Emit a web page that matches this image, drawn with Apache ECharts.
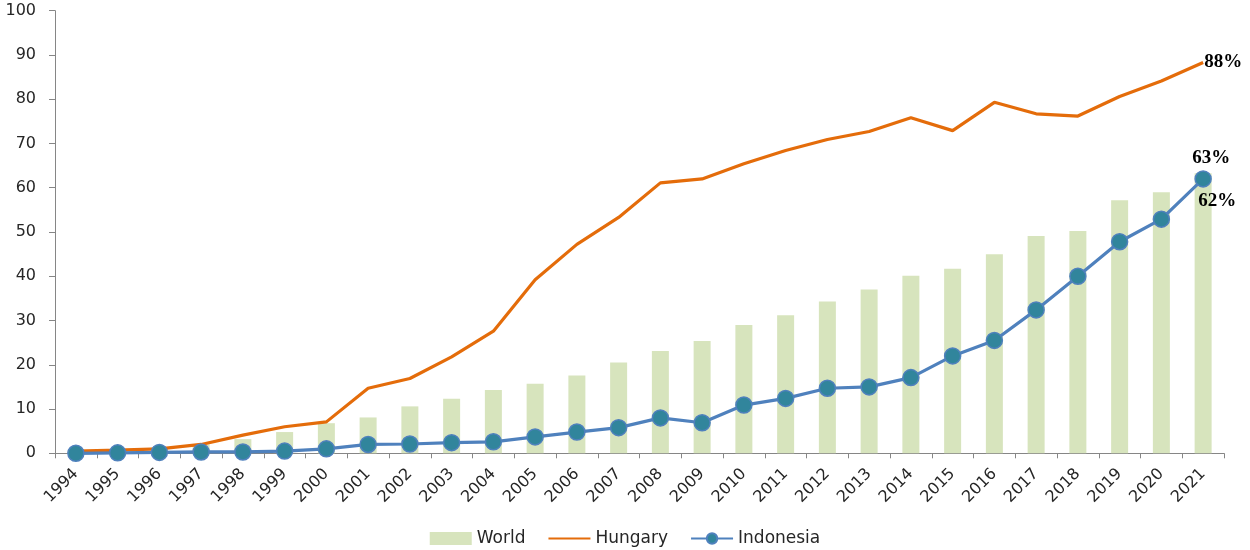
<!DOCTYPE html>
<html>
<head>
<meta charset="utf-8">
<script src="https://cdn.jsdelivr.net/npm/echarts@6/dist/echarts.min.js"></script>
<style>html,body{margin:0;padding:0;background:#fff;}#chart{width:1250px;height:550px;}</style>
</head>
<body>
<div id="chart"></div>
<script>
const years = ['1994','1995','1996','1997','1998','1999','2000','2001','2002','2003','2004','2005','2006','2007','2008','2009','2010','2011','2012','2013','2014','2015','2016','2017','2018','2019','2020','2021'];
const world = [0.4,0.8,1.3,2.0,3.2,4.8,6.8,8.1,10.6,12.3,14.3,15.7,17.6,20.5,23.1,25.4,29.0,31.2,34.3,37.0,40.1,41.7,45.0,49.1,50.2,57.2,59.0,63.3];
const hungary = [0.5,0.7,1.0,2.0,4.1,6.0,7.1,14.7,16.9,21.8,27.6,39.2,47.2,53.3,61.1,62.0,65.4,68.4,70.9,72.7,75.8,72.9,79.3,76.7,76.2,80.6,84.1,88.3];
const indonesia = [0.0,0.1,0.2,0.3,0.3,0.5,1.0,2.0,2.1,2.4,2.6,3.7,4.8,5.8,8.0,6.9,10.9,12.4,14.7,15.0,17.1,22.0,25.5,32.4,40.0,47.8,52.9,62.0];
const yTicks = [0,10,20,30,40,50,60,70,80,90,100];

const labelFont = {fontFamily:'Liberation Serif', fontWeight:'bold', fontSize:19, color:'#000'};
const last = years.length - 1;

const chart = echarts.init(document.getElementById('chart'));
chart.setOption({
  animation:false,
  grid:{left:55, right:26, top:10.7, bottom:96.7, containLabel:false},
  legend:{
    bottom:-2, left:'center', itemGap:22, itemWidth:42, itemHeight:13,
    textStyle:{fontFamily:'DejaVu Sans', fontSize:17, color:'#262626'},
    data:[
      {name:'World', icon:'rect', itemStyle:{color:'#D7E4BD'}},
      {name:'Hungary', itemStyle:{opacity:0}},
      {name:'Indonesia'}
    ]
  },
  xAxis:{
    type:'category', data:years, boundaryGap:true,
    axisLine:{lineStyle:{color:'#868686', width:1}},
    axisTick:{show:true, length:5, lineStyle:{color:'#868686'}},
    axisLabel:{rotate:45, fontFamily:'DejaVu Sans', fontSize:16, color:'#262626', margin:18, interval:0}
  },
  yAxis:{
    type:'value', min:yTicks[0], max:yTicks[yTicks.length-1], interval:10,
    axisLine:{show:true, lineStyle:{color:'#868686', width:1}},
    axisTick:{show:true, length:6, lineStyle:{color:'#868686'}},
    splitLine:{show:false},
    axisLabel:{fontFamily:'DejaVu Sans', fontSize:16, color:'#262626', margin:19}
  },
  series:[
    {
      name:'World', type:'bar', barWidth:17,
      itemStyle:{color:'#D7E4BD'},
      data: world.map((v,i)=> i===last ? {value:v, label:{show:true, position:'top', distance:6, offset:[8,0], formatter:'63%', ...labelFont}} : v)
    },
    {
      name:'Hungary', type:'line', symbol:'none', showSymbol:false,
      lineStyle:{color:'#E46C0A', width:3.2},
      itemStyle:{color:'#E46C0A'},
      endLabel:{show:true, formatter:'88%', distance:1, ...labelFont},
      data: hungary
    },
    {
      name:'Indonesia', type:'line', symbol:'circle', symbolSize:16,
      lineStyle:{color:'#4F81BD', width:3.2},
      itemStyle:{color:'#31859C', borderColor:'#4F81BD', borderWidth:1.5},
      data: indonesia.map((v,i)=> i===last ? {value:v, label:{show:true, position:'bottom', distance:4, offset:[14,0], formatter:'62%', ...labelFont}} : v)
    }
  ]
});
</script>
</body>
</html>
